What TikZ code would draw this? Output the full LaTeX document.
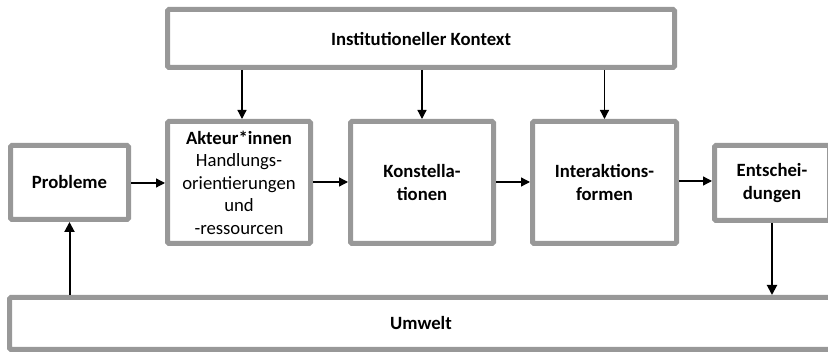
\documentclass[tikz,border=0pt]{standalone}
\usepackage{fontspec}
\setmainfont{Carlito}
\usetikzlibrary{arrows.meta}
\definecolor{frame}{RGB}{152,152,152}
\begin{document}
\begin{tikzpicture}[x=1pt,y=-1pt,
  box/.style={draw=frame,line width=5pt,rounded corners=1.5pt,fill=white,
    align=center,inner sep=0pt,font=\fontsize{18.7}{22.5}\selectfont},
  arr/.style={-{Triangle[length=9pt,width=9pt]},line width=1.3pt,black},
  thick arr/.style={-{Triangle[length=10pt,width=10pt]},line width=2pt,black}]
\useasboundingbox (0,0) rectangle (828,352);
\clip (0,0) rectangle (828,352);
\fill[white] (0,0) rectangle (828,352);

\node[box,minimum width=507pt,minimum height=58pt] (inst) at (421,38.5)
  {\textbf{Institutioneller Kontext}};
\node[box,minimum width=143pt,minimum height=122pt] (akt) at (239,182.5)
  {\textbf{Akteur*innen}\\Handlungs-\\orientierungen\\und\\-ressourcen};
\node[box,minimum width=143pt,minimum height=122pt] (kon) at (422,182.5)
  {\textbf{Konstella-}\\\textbf{tionen}};
\node[box,minimum width=144pt,minimum height=122pt] (int) at (604.5,182.5)
  {\textbf{Interaktions-}\\\textbf{formen}};
\node[box,minimum width=115pt,minimum height=75pt] (ent) at (772,183)
  {\textbf{Entschei-}\\\textbf{dungen}};
\node[box,minimum width=118pt,minimum height=74pt] (prob) at (69.5,182.5)
  {\textbf{Probleme}};
\node[box,minimum width=823pt,minimum height=52pt] (umw) at (421,323.5)
  {\textbf{Umwelt}};

% context influences the three middle stages
\draw[arr] (inst.south -| 242,0) -- (akt.north -| 242,0);
\draw[arr] (inst.south -| kon.north) -- (kon.north);
\draw[arr] (inst.south -| int.north) -- (int.north);

% main chain from left to right
\draw[arr] (prob.east |- 0,183) -- (akt.west |- 0,183);
\draw[arr] (akt.east |- 0,182) -- (kon.west |- 0,182);
\draw[arr] (kon.east |- 0,182) -- (int.west |- 0,182);
\draw[arr] (int.east |- 0,181) -- (ent.west |- 0,181);

% feedback through the environment
\draw[thick arr] (umw.north -| prob.south) -- (prob.south);
\draw[thick arr] (ent.south) -- (umw.north -| ent.south);
\end{tikzpicture}
\end{document}
